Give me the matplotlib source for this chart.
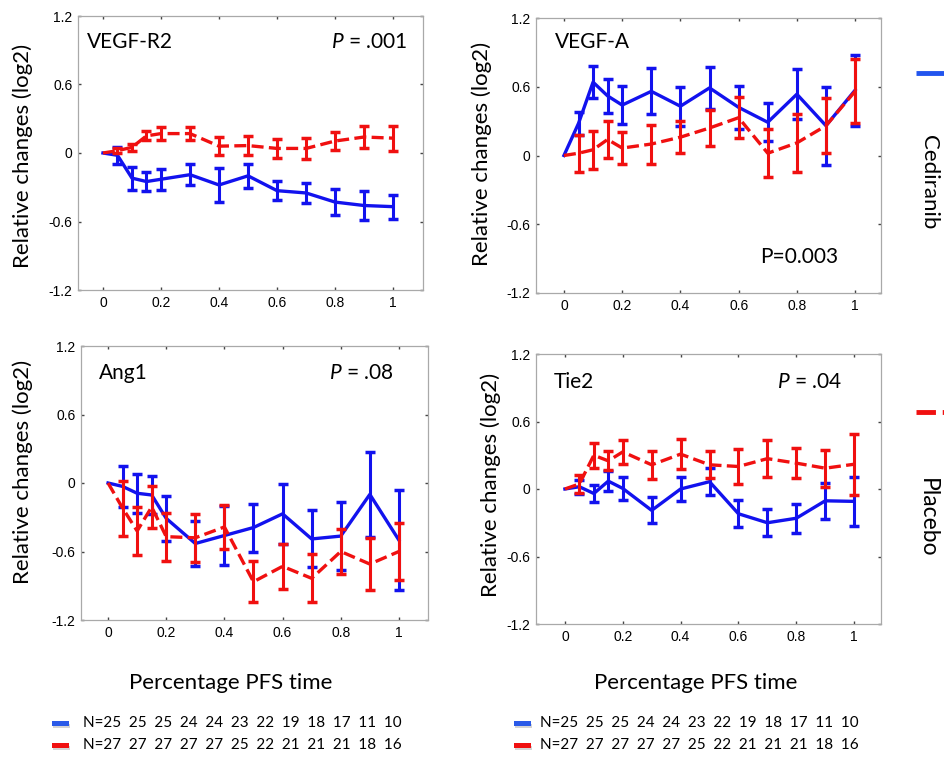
import matplotlib
matplotlib.use("Agg")
import matplotlib.pyplot as plt
from matplotlib.lines import Line2D
from matplotlib.patches import Rectangle

plt.rcParams["font.family"] = ["Liberation Sans", "DejaVu Sans"]
plt.rcParams["mathtext.fontset"] = "custom"
plt.rcParams["mathtext.rm"] = "Lato"
plt.rcParams["mathtext.it"] = "Lato:italic"

# fraction of PFS time
x = [0, 0.05, 0.1, 0.15, 0.2, 0.3, 0.4, 0.5, 0.6, 0.7, 0.8, 0.9, 1.0]

vegfr2_ced = [0, -0.02, -0.22, -0.25, -0.23, -0.19, -0.28, -0.20, -0.33, -0.35, -0.43, -0.46, -0.47]
vegfr2_ced_err = [0, 0.076, 0.10, 0.08, 0.09, 0.09, 0.145, 0.105, 0.083, 0.085, 0.115, 0.13, 0.105]
vegfr2_pla = [0, 0.02, 0.05, 0.15, 0.17, 0.17, 0.06, 0.065, 0.04, 0.04, 0.105, 0.14, 0.13]
vegfr2_pla_err = [0, 0.02, 0.03, 0.04, 0.06, 0.06, 0.08, 0.08, 0.08, 0.09, 0.075, 0.095, 0.11]

vegfa_ced = [0, 0.28, 0.64, 0.52, 0.44, 0.56, 0.43, 0.59, 0.42, 0.29, 0.535, 0.26, 0.57]
vegfa_ced_err = [0, 0.10, 0.14, 0.15, 0.165, 0.20, 0.17, 0.18, 0.19, 0.165, 0.22, 0.34, 0.31]
vegfa_pla = [0, 0.02, 0.05, 0.14, 0.065, 0.10, 0.16, 0.24, 0.33, 0.02, 0.11, 0.26, 0.56]
vegfa_pla_err = [0, 0.16, 0.165, 0.165, 0.14, 0.17, 0.14, 0.155, 0.18, 0.21, 0.25, 0.24, 0.28]

ang1_ced = [0, -0.03, -0.09, -0.105, -0.31, -0.53, -0.46, -0.39, -0.27, -0.49, -0.465, -0.10, -0.50]
ang1_ced_err = [0, 0.18, 0.17, 0.17, 0.20, 0.20, 0.26, 0.21, 0.26, 0.25, 0.30, 0.37, 0.44]
ang1_pla = [0, -0.22, -0.42, -0.21, -0.47, -0.48, -0.385, -0.865, -0.73, -0.835, -0.60, -0.71, -0.60]
ang1_pla_err = [0, 0.24, 0.21, 0.18, 0.21, 0.21, 0.19, 0.18, 0.20, 0.21, 0.20, 0.23, 0.25]

tie2_ced = [0, 0.02, -0.04, 0.07, 0.005, -0.19, 0.0, 0.065, -0.22, -0.30, -0.26, -0.105, -0.11]
tie2_ced_err = [0, 0.06, 0.075, 0.09, 0.10, 0.115, 0.11, 0.12, 0.12, 0.12, 0.13, 0.16, 0.22]
tie2_pla = [0, 0.045, 0.30, 0.25, 0.33, 0.215, 0.31, 0.215, 0.20, 0.27, 0.23, 0.185, 0.22]
tie2_pla_err = [0, 0.08, 0.11, 0.085, 0.105, 0.125, 0.135, 0.12, 0.155, 0.165, 0.135, 0.165, 0.27]

n_ced = [25, 25, 25, 24, 24, 23, 22, 19, 18, 17, 11, 10]
n_pla = [27, 27, 27, 27, 27, 25, 22, 21, 21, 21, 18, 16]

yticks = [-1.2, -0.6, 0, 0.6, 1.2]
xticks = [0, 0.2, 0.4, 0.6, 0.8, 1]

BLUE = "#1212ee"
RED = "#f01010"
W, H = 945, 757


def fx(px):
    return px / W


def fy(py):
    return 1 - py / H


def rect(left, right, top, bottom):
    return [fx(left), fy(bottom), (right - left) / W, (bottom - top) / H]


fig = plt.figure(figsize=(9.45, 7.57), dpi=100)

panels = [
    # name, series, axes px box, xlim, p text, p pos, p align, name pos, ylabel px
    ("VEGF-R2", vegfr2_ced, vegfr2_ced_err, vegfr2_pla, vegfr2_pla_err,
     (78, 423, 16, 290), (-0.086, 1.103), r"$P$ = .001", (1.048, 0.97), "right",
     (-0.055, 0.97), (23, 156)),
    ("VEGF-A", vegfa_ced, vegfa_ced_err, vegfa_pla, vegfa_pla_err,
     (536, 881, 18, 293), (-0.096, 1.089), "P=0.003", (0.673, -0.89), "left",
     (-0.03, 0.99), (482, 154)),
    ("Ang1", ang1_ced, ang1_ced_err, ang1_pla, ang1_pla_err,
     (81, 428, 346, 620), (-0.093, 1.1), r"$P$ = .08", (0.98, 0.96), "right",
     (-0.03, 0.96), (23, 472)),
    ("Tie2", tie2_ced, tie2_ced_err, tie2_pla, tie2_pla_err,
     (536, 881, 354, 624), (-0.1, 1.093), r"$P$ = .04", (0.96, 0.95), "right",
     (-0.04, 0.95), (491, 485)),
]

for (name, ced, ced_err, pla, pla_err, box, xlim, ptxt, ppos, palign,
     npos, ylab) in panels:
    ax = fig.add_axes(rect(*box))
    ax.errorbar(x, ced, yerr=ced_err, color=BLUE, lw=2.4, elinewidth=2.2,
                capsize=3.5, capthick=2.5, errorevery=(1, 1), zorder=3)
    eb = ax.errorbar(x, pla, yerr=pla_err, color=RED, lw=2.4, elinewidth=2.2,
                     capsize=3.5, capthick=2.5, errorevery=(1, 1), zorder=4)
    eb.lines[0].set_dashes((3.6, 1.6))
    ax.set_xlim(*xlim)
    ax.set_ylim(-1.2, 1.2)
    ax.set_xticks(xticks)
    ax.set_xticklabels(["0", "0.2", "0.4", "0.6", "0.8", "1"])
    ax.set_yticks(yticks)
    ax.set_yticklabels(["-1.2", "-0.6", "0", "0.6", "1.2"])
    ax.tick_params(direction="in", length=2.5, width=1, color="#444444",
                   top=True, right=True, labelsize=10, pad=4)
    for sp in ax.spines.values():
        sp.set_color("#a9a9a9")
        sp.set_linewidth(0.9)
    ax.text(npos[0], npos[1], name, ha="left", va="center",
            fontsize=15, family="Lato")
    ax.text(ppos[0], ppos[1], ptxt, ha=palign, va="center",
            fontsize=15, family="Lato")
    fig.text(fx(ylab[0]), fy(ylab[1]), "Relative changes (log2)", rotation=90,
             ha="center", va="center", fontsize=16, family="Lato")

# x labels and N rows under each column
for cx, mk0, tx0 in [(231, 52, 83), (696, 514, 540)]:
    fig.text(fx(cx), fy(683), "Percentage PFS time", ha="center", va="center",
             fontsize=16, family="Lato")
    for ns, col, yy in [(n_ced, "#2a5ae8", 723), (n_pla, RED, 745)]:
        # small colour key with a soft shadow
        fig.add_artist(Rectangle((fx(mk0 + 1), fy(yy + 5)), 17 / W, 4 / H,
                                 transform=fig.transFigure, color="#d4d4d4", lw=0))
        fig.add_artist(Rectangle((fx(mk0), fy(yy + 2.5)), 17 / W, 5 / H,
                                 transform=fig.transFigure, color=col, lw=0))
        label = "N=" + "  ".join(str(n) for n in ns)
        fig.text(fx(tx0), fy(yy), label, ha="left", va="center",
                 fontsize=11, family="Lato")

# group legend on the right edge
fig.add_artist(Line2D([fx(916), fx(946)], [fy(73), fy(73)], color="#2255ee",
                      lw=3.5, solid_capstyle="butt"))
fig.text(fx(929), fy(182), "Cediranib", rotation=-90, ha="center", va="center",
         fontsize=16, family="Lato")
leg_red = Line2D([fx(916), fx(946)], [fy(412), fy(412)], color=RED, lw=3.5,
                 solid_capstyle="butt", dash_capstyle="butt")
leg_red.set_dashes((4, 1.4))
fig.add_artist(leg_red)
fig.text(fx(927), fy(518), "Placebo", rotation=-90, ha="center", va="center",
         fontsize=16.5, family="Lato")

fig.savefig("out.png", dpi=100)
